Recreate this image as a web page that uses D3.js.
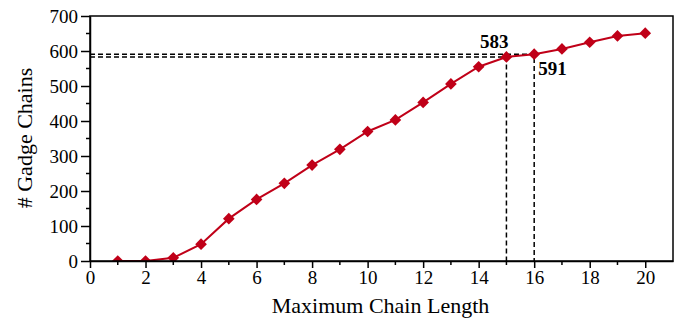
<!DOCTYPE html>
<html>
<head>
<meta charset="utf-8">
<script src="https://cdn.jsdelivr.net/npm/d3@7"></script>
<style>
  body { margin: 0; background: #fff; }
  svg { display: block; font-family: "Liberation Serif", "Times New Roman", serif; }
</style>
</head>
<body>
<div id="chart"></div>
<script>
'use strict';

// chain length vs number of gadget chains
var chainLength = [1, 2, 3, 4, 5, 6, 7, 8, 9, 10, 11, 12, 13, 14, 15, 16, 17, 18, 19, 20];
var chainCount = [0, 0, 9, 48, 121, 176, 222, 274, 319, 370, 403, 453, 506, 555, 583, 591, 606, 625, 643, 651];
var xTicks = [0, 2, 4, 6, 8, 10, 12, 14, 16, 18, 20];
var yTicks = [0, 100, 200, 300, 400, 500, 600, 700];
var marked = [{ len: 15, count: 583 }, { len: 16, count: 591 }];

var width = 681, height = 320
  , margin = { top: 16, right: 8, bottom: 59, left: 90 }
  , red = '#c00018';

var svg = d3.select('#chart').append('svg')
  .attr('width', width)
  .attr('height', height);

var x = d3.scaleLinear().domain([0, 21]).range([margin.left, width - margin.right]);
var y = d3.scaleLinear().domain([0, 700]).range([height - margin.bottom, margin.top]);

svg.append('clipPath').attr('id', 'plot')
  .append('rect')
    .attr('x', x(0)).attr('y', y(700))
    .attr('width', x(21) - x(0)).attr('height', y(0) - y(700));

// dashed guides
var guides = svg.append('g')
  .attr('fill', 'none').attr('stroke', '#000')
  .attr('stroke-width', 1.5).attr('stroke-dasharray', '5,3');
marked.forEach(function (m) {
  guides.append('path')
    .attr('d', 'M' + x(0) + ',' + y(m.count) + 'H' + x(m.len) + 'V' + y(0));
});

// series line and markers
var line = d3.line()
  .x(function (d, i) { return x(chainLength[i]); })
  .y(function (d) { return y(d); });

var plot = svg.append('g').attr('clip-path', 'url(#plot)');

plot.append('path')
  .datum(chainCount)
  .attr('d', line)
  .attr('fill', 'none')
  .attr('stroke', red)
  .attr('stroke-width', 2);

plot.selectAll('path.pt')
  .data(chainCount)
  .enter().append('path')
    .attr('class', 'pt')
    .attr('transform', function (d, i) {
      return 'translate(' + x(chainLength[i]) + ',' + y(d) + ') rotate(45)';
    })
    .attr('d', d3.symbol().type(d3.symbolSquare).size(68))
    .attr('fill', red);

// frame
svg.append('rect')
  .attr('x', x(0)).attr('y', y(700))
  .attr('width', x(21) - x(0)).attr('height', y(0) - y(700))
  .attr('fill', 'none').attr('stroke', '#000').attr('stroke-width', 1.5);

// minor ticks
svg.append('g').selectAll('line')
  .data(d3.range(1, 21, 2))
  .enter().append('line')
    .attr('x1', function (d) { return x(d); }).attr('x2', function (d) { return x(d); })
    .attr('y1', y(0)).attr('y2', y(0) + 4)
    .attr('stroke', '#000').attr('stroke-width', 1.5);
svg.append('g').selectAll('line')
  .data(d3.range(50, 700, 100))
  .enter().append('line')
    .attr('y1', function (d) { return y(d); }).attr('y2', function (d) { return y(d); })
    .attr('x1', x(0)).attr('x2', x(0) - 4)
    .attr('stroke', '#000').attr('stroke-width', 1.5);

var xAxis = svg.append('g')
  .attr('transform', 'translate(0,' + y(0) + ')')
  .call(d3.axisBottom(x).tickValues(xTicks).tickSize(7).tickPadding(3).tickSizeOuter(0));
var yAxis = svg.append('g')
  .attr('transform', 'translate(' + x(0) + ',0)')
  .call(d3.axisLeft(y).tickValues(yTicks).tickSize(9).tickPadding(3).tickSizeOuter(0));

[xAxis, yAxis].forEach(function (a) {
  a.select('.domain').attr('stroke-width', 1.5);
  a.selectAll('.tick line').attr('stroke-width', 1.5);
  a.selectAll('.tick text')
    .attr('fill', '#000')
    .style('font-family', '"Liberation Serif", serif')
    .style('font-size', '19px');
});

// value labels
svg.append('text')
  .attr('x', x(15) + 2).attr('y', y(583) - 9)
  .attr('text-anchor', 'end')
  .style('font-size', '19px').style('font-weight', 'bold')
  .text(marked[0].count);
svg.append('text')
  .attr('x', x(16) + 4).attr('y', y(591) + 21)
  .attr('text-anchor', 'start')
  .style('font-size', '19px').style('font-weight', 'bold')
  .text(marked[1].count);

// axis titles
svg.append('text')
  .attr('x', (x(0) + x(21)) / 2 - 1).attr('y', 313)
  .attr('text-anchor', 'middle')
  .style('font-size', '22px')
  .text('Maximum Chain Length');
svg.append('text')
  .attr('transform', 'translate(32,138) rotate(-90)')
  .attr('text-anchor', 'middle')
  .style('font-size', '22px')
  .text('# Gadge Chains');
</script>
</body>
</html>
